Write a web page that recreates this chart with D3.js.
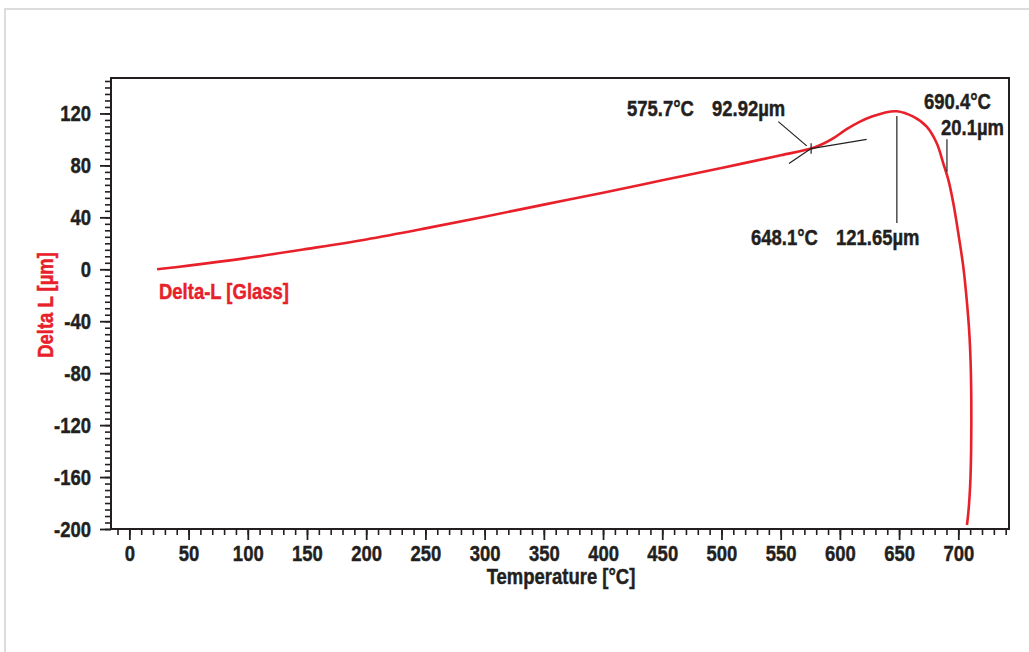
<!DOCTYPE html>
<html>
<head>
<meta charset="utf-8">
<script src="https://cdn.jsdelivr.net/npm/d3@7"></script>
<style>
  html, body { margin: 0; padding: 0; background: #fff; }
  svg text { font-family: "Liberation Sans", Arial, sans-serif; font-weight: bold; stroke-width: 0.45px; }
</style>
</head>
<body>
<svg id="chart" width="1029" height="652"></svg>
<script>
// ---- data ----
const temperature = [23.4, 50, 100, 150, 200, 250, 300, 350, 400, 450, 500, 550, 575.7, 585, 595, 605, 617, 627, 637, 648.1,
  662.0, 673.3, 681.8, 687.3, 691.6, 695.8, 700.0, 704.2, 707.1, 709.3, 710.4, 710.9, 711.0, 710.8, 710.3, 709.5, 708.5, 707.3];
const deltaL = [0, 2.8, 8.8, 15.7, 23.0, 31.5, 40.5, 49.8, 59.0, 68.5, 78.0, 87.8, 92.92, 96.3, 101.2, 107.5, 113.7, 117.6, 120.4, 121.65,
  117.5, 109.8, 97.0, 81.6, 68.8, 50.8, 27.7, 2.0, -23.6, -49.3, -72.0, -95.0, -118.0, -140.0, -160.0, -175.0, -187.0, -196.9];

const xTickValues = [0, 50, 100, 150, 200, 250, 300, 350, 400, 450, 500, 550, 600, 650, 700];
const yTickValues = [-200, -160, -120, -80, -40, 0, 40, 80, 120];
const xMinorTicks = d3.range(-10, 741, 10);
const yMinorTicks = d3.range(-200, 146, 5);

const seriesName = "Delta-L [Glass]";
const xTitle = "Temperature [°C]";
const yTitle = "Delta L [µm]";

// annotations (data coordinates)
const onsetLabels = ["575.7°C", "92.92µm"];
const onsetSteepTangent = [[557.0, 81.5], [575.7, 92.92]];
const onsetBaseTangent = [[575.7, 92.92], [622.6, 100.0]];
const onsetPointer = [[548.0, 113.7], [572.0, 95.0]];
const onsetTick = [[575.7, 89.0], [575.7, 97.0]];
const peakLabels = ["648.1°C", "121.65µm"];
const peakLine = [[648.1, 118.1], [648.1, 35.7]];
const softLabels = ["690.4°C", "20.1µm"];
const softLine = [[690.4, 100.1], [690.4, 75.2]];

// ---- drawing ----
const ink = "#231f20";
const red = "#e8202a";
const K = 0.84; // horizontal condensing of the bold face
const svg = d3.select("#chart");

function narrow(sel) {
  sel.each(function () {
    const t = d3.select(this);
    const x0 = +t.attr("x") || 0;
    t.attr("x", x0 / K);
    const tr = t.attr("transform") || "";
    t.attr("transform", (tr + ` scale(${K},1)`).trim());
  });
}

// page frame
svg.append("rect").attr("x", 5).attr("y", 9).attr("width", 1040).attr("height", 660)
  .attr("fill", "none").attr("stroke", "#dcdcdc").attr("stroke-width", 2);

const plot = { left: 111, right: 1009, top: 78, bottom: 529 };
const x = d3.scaleLinear().domain([-15.5, 742.8]).range([plot.left, plot.right]);
const y = d3.scaleLinear().domain([-200, 147.3]).range([plot.bottom, plot.top]);
const fmt = d => String(d);

// minor ticks
svg.append("g").attr("transform", `translate(0,${plot.bottom})`)
  .call(d3.axisBottom(x).tickValues(xMinorTicks).tickSize(6).tickFormat(""))
  .call(g => g.select(".domain").remove())
  .call(g => g.selectAll("line").attr("stroke", ink).attr("stroke-width", 1.6));
svg.append("g").attr("transform", `translate(${plot.left},0)`)
  .call(d3.axisLeft(y).tickValues(yMinorTicks).tickSize(6).tickFormat(""))
  .call(g => g.select(".domain").remove())
  .call(g => g.selectAll("line").attr("stroke", ink).attr("stroke-width", 1.6));

// major ticks + labels
svg.append("g").attr("transform", `translate(0,${plot.bottom})`)
  .call(d3.axisBottom(x).tickValues(xTickValues).tickSize(11).tickPadding(5).tickFormat(fmt))
  .call(g => g.select(".domain").remove())
  .call(g => g.selectAll("line").attr("stroke", ink).attr("stroke-width", 1.8))
  .call(g => g.selectAll("text").attr("fill", ink).attr("stroke", ink).style("font-size", "22px").call(narrow));
svg.append("g").attr("transform", `translate(${plot.left},0)`)
  .call(d3.axisLeft(y).tickValues(yTickValues).tickSize(11).tickPadding(9).tickFormat(fmt))
  .call(g => g.select(".domain").remove())
  .call(g => g.selectAll("line").attr("stroke", ink).attr("stroke-width", 1.8))
  .call(g => g.selectAll("text").attr("fill", ink).attr("stroke", ink).style("font-size", "22px").call(narrow));

// plot frame
svg.append("rect").attr("x", plot.left).attr("y", plot.top)
  .attr("width", plot.right - plot.left).attr("height", plot.bottom - plot.top)
  .attr("fill", "none").attr("stroke", ink).attr("stroke-width", 2);

// axis titles
svg.append("text").attr("transform", `translate(561,584) scale(${K},1)`).attr("text-anchor", "middle")
  .attr("fill", ink).attr("stroke", ink).style("font-size", "22px").text(xTitle);
svg.append("text").attr("transform", `translate(53,305) rotate(-90) scale(${K},1)`).attr("text-anchor", "middle")
  .attr("fill", red).attr("stroke", red).style("font-size", "22px").text(yTitle);

// series
const pts = temperature.map((t, i) => [t, deltaL[i]]);
const line = d3.line().x(d => x(d[0])).y(d => y(d[1])).curve(d3.curveCatmullRom.alpha(0.5));
svg.append("path").datum(pts).attr("d", line)
  .attr("fill", "none").attr("stroke", red).attr("stroke-width", 2.6).attr("stroke-linejoin", "round");

// legend label
svg.append("text").attr("transform", `translate(159,299) scale(${K},1)`)
  .attr("fill", red).attr("stroke", red).style("font-size", "22px").text(seriesName);

// annotation lines
const seg = d3.line().x(d => x(d[0])).y(d => y(d[1]));
[onsetSteepTangent, onsetBaseTangent, onsetPointer, onsetTick, peakLine, softLine].forEach(s => {
  svg.append("path").attr("d", seg(s)).attr("fill", "none").attr("stroke", ink).attr("stroke-width", 1.2);
});

// annotation labels
const ann = [
  [onsetLabels[0], 627, 115.5], [onsetLabels[1], 712, 115.5],
  [peakLabels[0], 751, 245], [peakLabels[1], 836, 245],
  [softLabels[0], 924, 108.5], [softLabels[1], 941, 134.5]
];
ann.forEach(a => {
  svg.append("text").attr("transform", `translate(${a[1]},${a[2]}) scale(${K},1)`)
    .attr("fill", ink).attr("stroke", ink)
    .style("font-size", "22px").text(a[0]);
});
</script>
</body>
</html>
